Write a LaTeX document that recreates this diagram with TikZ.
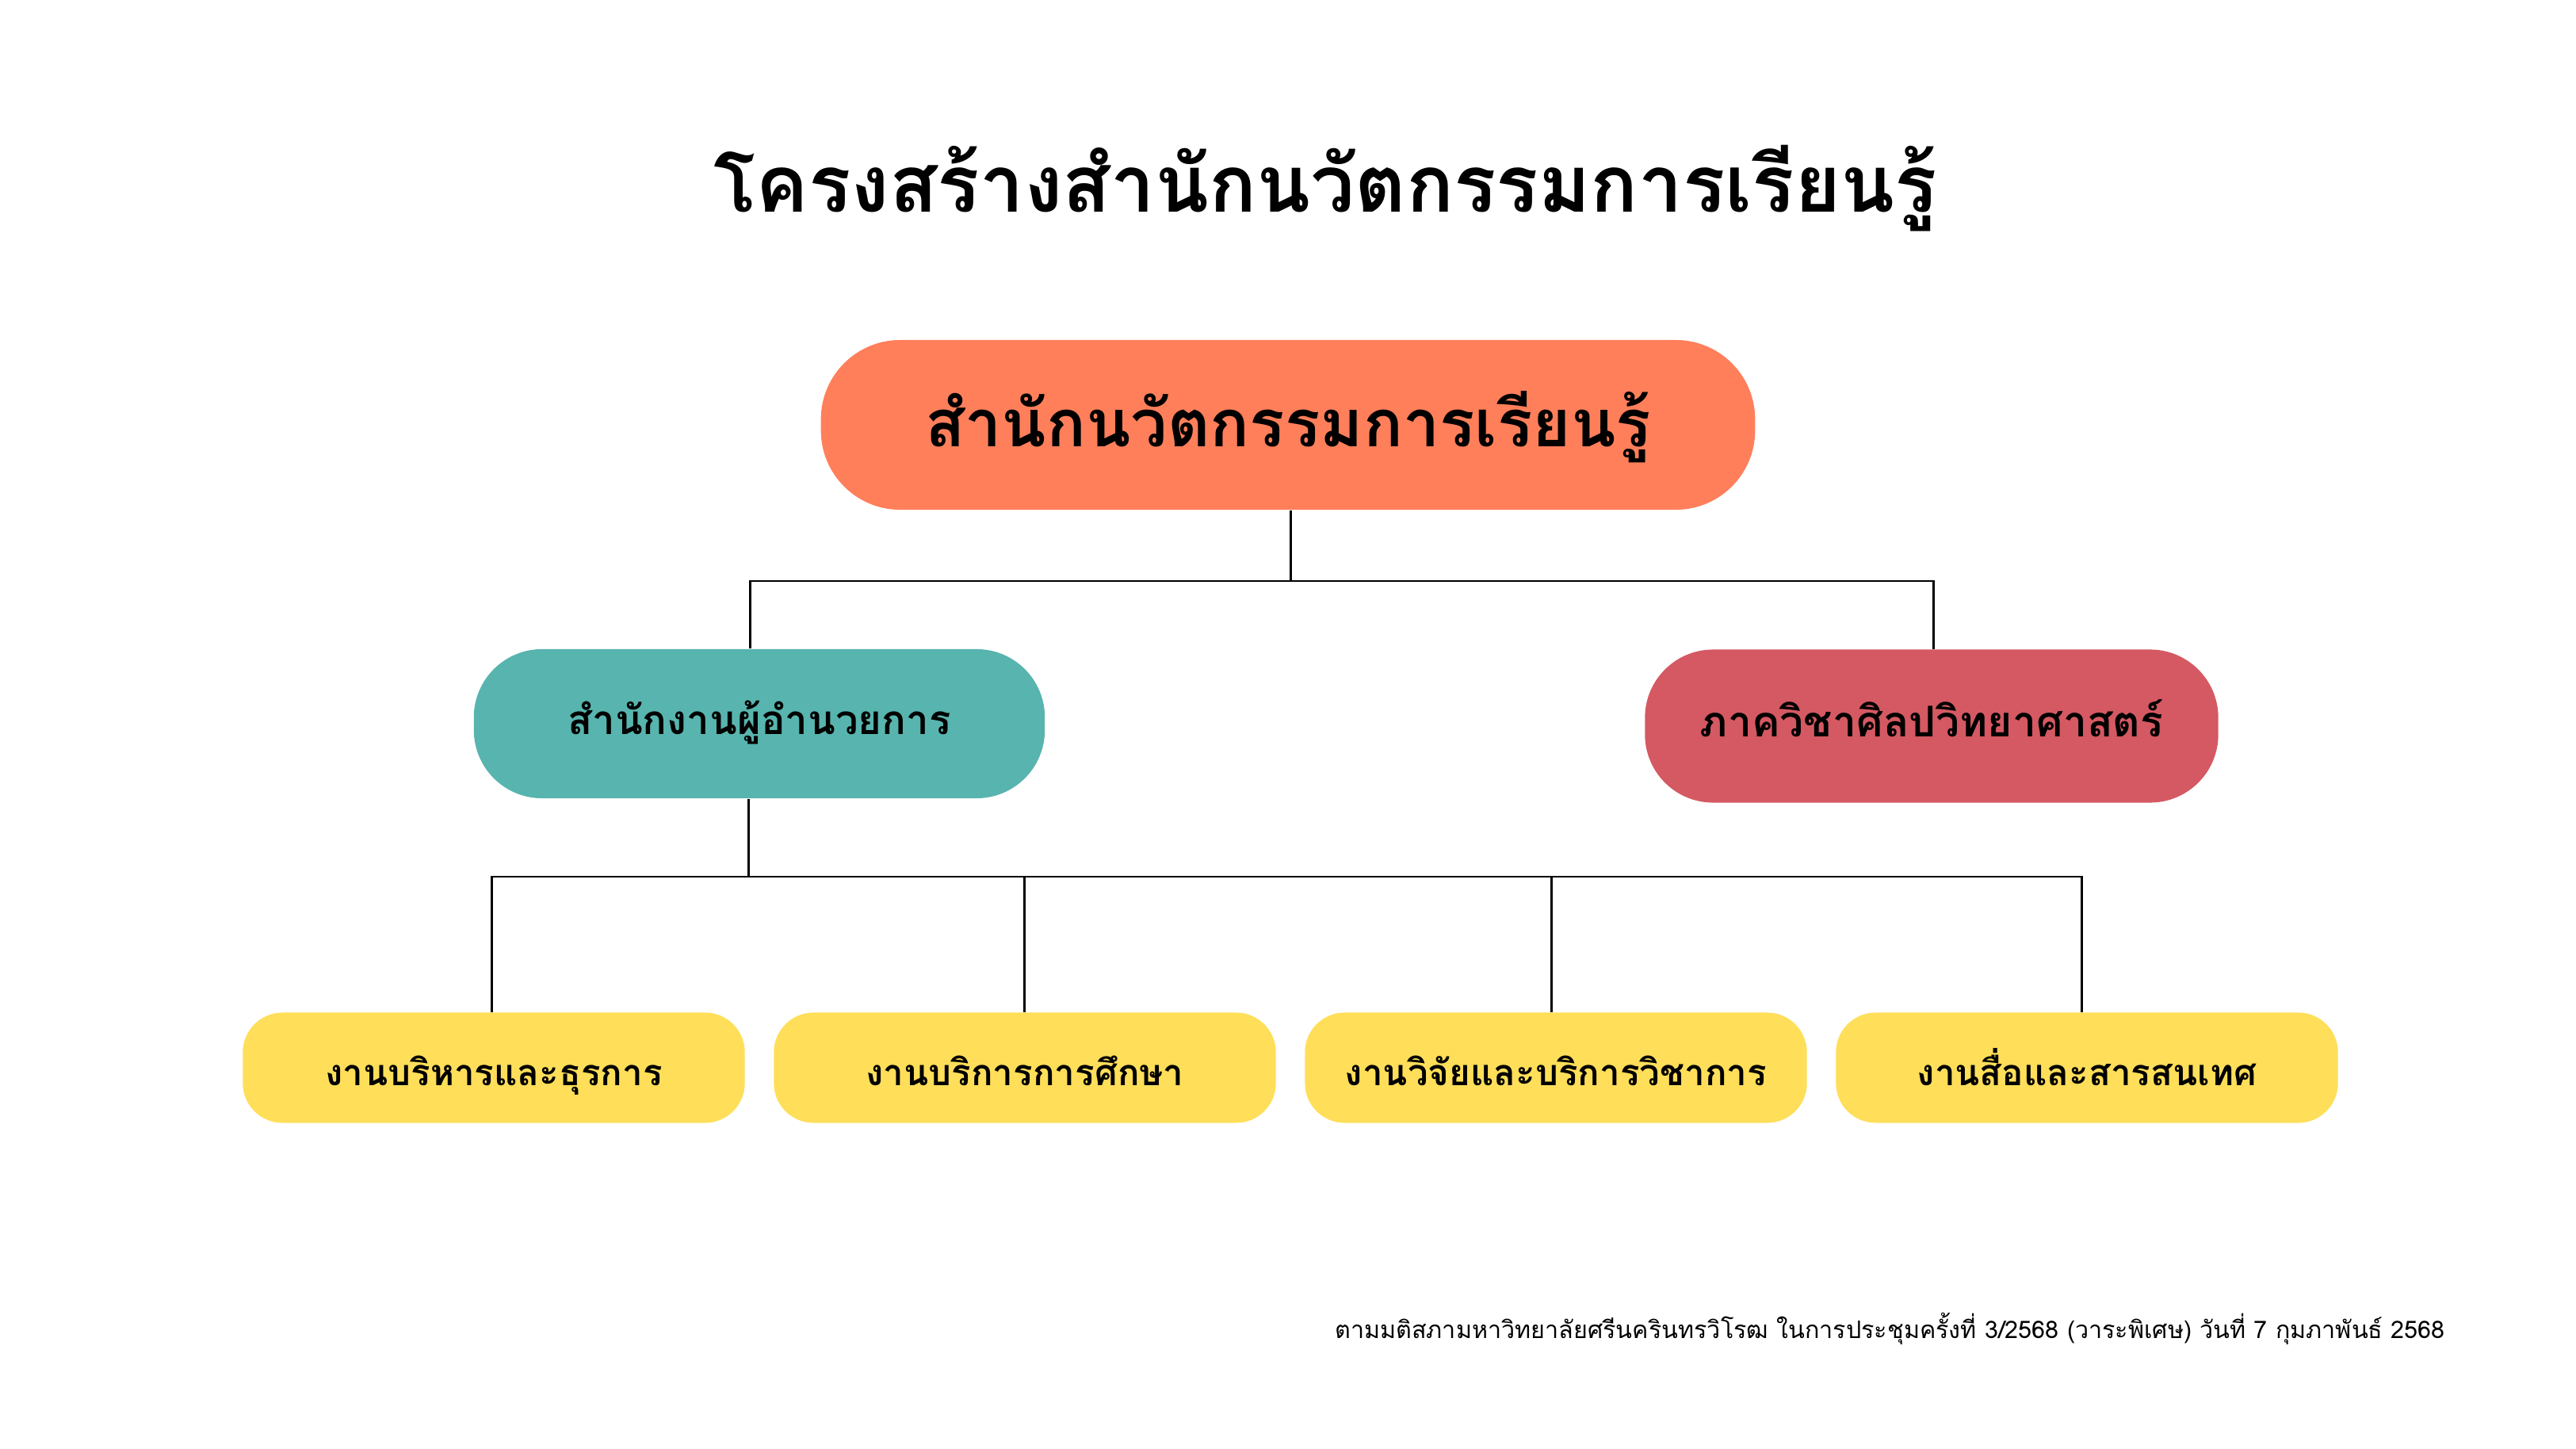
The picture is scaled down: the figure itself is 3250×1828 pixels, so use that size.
\documentclass[tikz,border=0pt]{standalone}
\usepackage{fontspec}
\setmainfont[Script=Thai]{Loma}
\usetikzlibrary{calc}
\definecolor{corange}{HTML}{FF7F5B}
\definecolor{cteal}{HTML}{58B4AE}
\definecolor{cred}{HTML}{D45962}
\definecolor{cyellow}{HTML}{FFDE59}
\tikzset{
  conn/.style={draw=black, line width=0.85pt},
  topbox/.style={rectangle, fill=corange, rounded corners=1cm, minimum width=11.78cm, minimum height=2.14cm, inner sep=0pt,
    font=\fontsize{23.5}{28}\selectfont\bfseries, text height=0.8cm, text depth=0.26cm},
  midbox/.style={rectangle, rounded corners=0.86cm, minimum width=7.2cm, minimum height=1.88cm, inner sep=0pt,
    font=\fontsize{14.5}{18}\selectfont\bfseries, text height=0.5cm, text depth=0.23cm},
  lowbox/.style={rectangle, fill=cyellow, rounded corners=0.5cm, minimum width=6.33cm, minimum height=1.39cm, inner sep=0pt,
    font=\fontsize{13}{16}\selectfont\bfseries, text height=0.6cm, text depth=0.16cm},
}
\begin{document}
\begin{tikzpicture}[x=0.01cm, y=-0.01cm]
\useasboundingbox[fill=white] (0,0) rectangle (3250,1828);
\node[anchor=base, font=\fontsize{28.3}{34}\selectfont\bfseries] (title) at (1672,268) {โครงสร้างสำนักนวัตกรรมการเรียนรู้};
\node[topbox] (top) at (1625,536) {สำนักนวัตกรรมการเรียนรู้};
\node[midbox, fill=cteal] (adm) at (958,913) {สำนักงานผู้อำนวยการ};
\node[midbox, fill=cred, minimum width=7.23cm, minimum height=1.93cm, font=\fontsize{15.2}{18}\selectfont\bfseries] (dep) at (2437,916) {ภาควิชาศิลปวิทยาศาสตร์};
\node[lowbox] (w1) at (623,1347) {งานบริหารและธุรการ};
\node[lowbox] (w2) at (1293,1347) {งานบริการการศึกษา};
\node[lowbox] (w3) at (1963,1347) {งานวิจัยและบริการวิชาการ};
\node[lowbox] (w4) at (2633,1347) {งานสื่อและสารสนเทศ};
\node[anchor=base east, font=\fontsize{8.67}{10}\selectfont] (note) at (3097,1688) {ตามมติสภามหาวิทยาลัยศรีนครินทรวิโรฒ ในการประชุมครั้งที่ 3/2568 (วาระพิเศษ) วันที่ 7 กุมภาพันธ์ 2568};
% upper tree
\coordinate (hubA) at (1628,733);
\coordinate (hubB) at (944,1106);
\coordinate (dA) at ($(adm.north)+(-12,0)$);
\coordinate (dB) at ($(dep.north)+(2,0)$);
\draw[conn] (top.south -| hubA) -- (hubA);
\draw[conn] (dA) |- (hubA) -| (dB);
% lower tree
\coordinate (d1) at ($(w1.north)+(-3,0)$);
\coordinate (d2) at ($(w2.north)+(-1,0)$);
\coordinate (d3) at ($(w3.north)+(-6,0)$);
\coordinate (d4) at ($(w4.north)+(-7,0)$);
\draw[conn] (adm.south -| hubB) -- (hubB);
\draw[conn] (d1) |- (hubB) -| (d4);
\draw[conn] (d2) -- (d2 |- hubB);
\draw[conn] (d3) -- (d3 |- hubB);
\end{tikzpicture}
\end{document}
